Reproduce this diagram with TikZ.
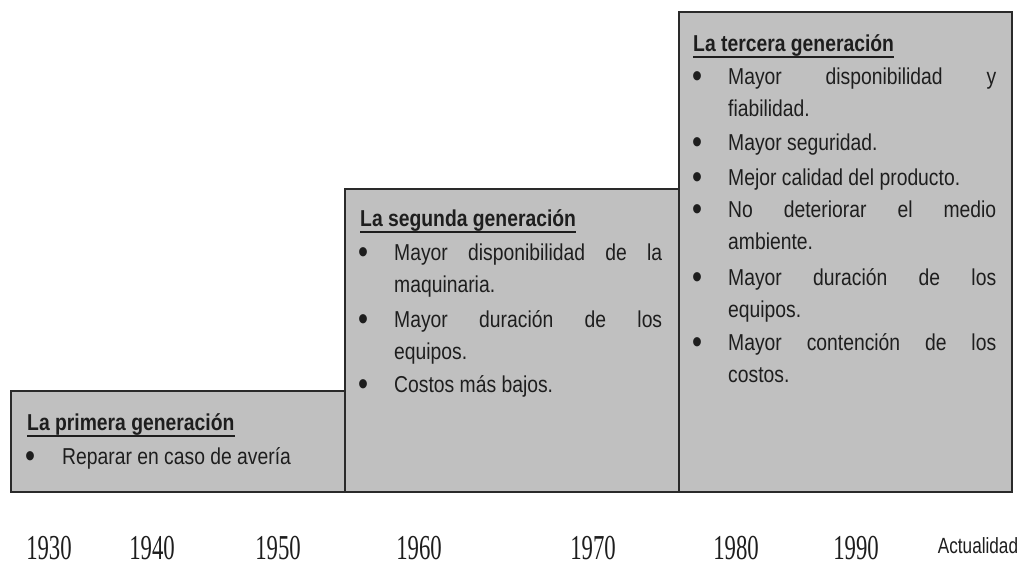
\documentclass[tikz,border=0pt]{standalone}
\usepackage{fontspec}
\setmainfont{Liberation Sans}
\newfontfamily\bodyfont[FakeStretch=0.84]{Liberation Sans}
\newfontfamily\yearfont[FakeStretch=0.65]{Liberation Serif}
\newfontfamily\actfont[FakeStretch=0.78]{Liberation Sans}
\definecolor{boxfill}{HTML}{C0C0C0}
\definecolor{boxline}{HTML}{2A2A2A}
\definecolor{txt}{HTML}{1E1E1E}
\newcommand{\itemtxt}[1]{\parbox[t]{268pt}{\hyphenpenalty=10000\exhyphenpenalty=10000\tolerance=10000\hbadness=10000#1}}
\tikzset{
  genbox/.style={draw=boxline, fill=boxfill, line width=1.6pt, inner sep=0pt, outer sep=0pt, anchor=north west},
  head/.style={font=\bodyfont\bfseries\fontsize{23pt}{32pt}\selectfont, text=txt, inner sep=0pt, anchor=base west},
  uline/.style={draw=txt, line width=1.4pt},
  bul/.style={font=\bodyfont\fontsize{34pt}{34pt}\selectfont, text=txt, inner sep=0pt, anchor=base},
  itm/.style={font=\bodyfont\fontsize{23pt}{32pt}\selectfont, text=txt, inner sep=0pt, anchor=base west},
  year/.style={font=\yearfont\fontsize{35pt}{40pt}\selectfont, text=txt, inner sep=0pt, text depth=0pt, anchor=base},
  act/.style={font=\actfont\fontsize{22pt}{26pt}\selectfont, text=txt, inner sep=0pt, anchor=base}
}
\begin{document}
\begin{tikzpicture}[x=1pt, y=-1pt]
\fill[white] (0,0) rectangle (1027,565);
\useasboundingbox (0,0) rectangle (1027,565);
% boxes
\node[genbox, minimum width=334pt, minimum height=101pt] (box1) at (11,391) {};
\node[genbox, minimum width=334pt, minimum height=303pt] (box2) at (345,189) {};
\node[genbox, minimum width=333pt, minimum height=480pt] (box3) at (679,12) {};
% box 1
\node[head] (h1) at (27,430) {La primera generación};
\draw[uline] ([yshift=-1pt]h1.south west) -- ([yshift=-1pt]h1.south east);
\node[bul] (p1) at (30,467) {•};
\node[itm] (t1) at (62,464) {\itemtxt{Reparar en caso de avería}};
% box 2
\node[head] (h2) at (360,226) {La segunda generación};
\draw[uline] ([yshift=-1pt]h2.south west) -- ([yshift=-1pt]h2.south east);
\node[bul] (p2a) at (363,263) {•};
\node[itm] (t2a) at (394,260) {\itemtxt{Mayor disponibilidad de la\linebreak maquinaria.}};
\node[bul] (p2b) at (363,330) {•};
\node[itm] (t2b) at (394,327) {\itemtxt{Mayor duración de los\linebreak equipos.}};
\node[bul] (p2c) at (363,395) {•};
\node[itm] (t2c) at (394,392) {\itemtxt{Costos más bajos.}};
% box 3
\node[head] (h3) at (693,51) {La tercera generación};
\draw[uline] ([yshift=-1pt]h3.south west) -- ([yshift=-1pt]h3.south east);
\node[bul] (p3a) at (697,87) {•};
\node[itm] (t3a) at (728,84) {\itemtxt{Mayor disponibilidad y\linebreak fiabilidad.}};
\node[bul] (p3b) at (697,153) {•};
\node[itm] (t3b) at (728,150) {\itemtxt{Mayor seguridad.}};
\node[bul] (p3c) at (697,188) {•};
\node[itm] (t3c) at (728,185) {\itemtxt{Mejor calidad del producto.}};
\node[bul] (p3d) at (697,220) {•};
\node[itm] (t3d) at (728,217) {\itemtxt{No deteriorar el medio\linebreak ambiente.}};
\node[bul] (p3e) at (697,288) {•};
\node[itm] (t3e) at (728,285) {\itemtxt{Mayor duración de los\linebreak equipos.}};
\node[bul] (p3f) at (697,353) {•};
\node[itm] (t3f) at (728,350) {\itemtxt{Mayor contención de los\linebreak costos.}};
% years
\node[year] (y1930) at (49,559) {1930};
\node[year] (y1940) at (152,559) {1940};
\node[year] (y1950) at (278,559) {1950};
\node[year] (y1960) at (419,559) {1960};
\node[year] (y1970) at (593,559) {1970};
\node[year] (y1980) at (736,559) {1980};
\node[year] (y1990) at (856,559) {1990};
\node[act] (yact) at (978,553) {Actualidad};
\end{tikzpicture}
\end{document}
